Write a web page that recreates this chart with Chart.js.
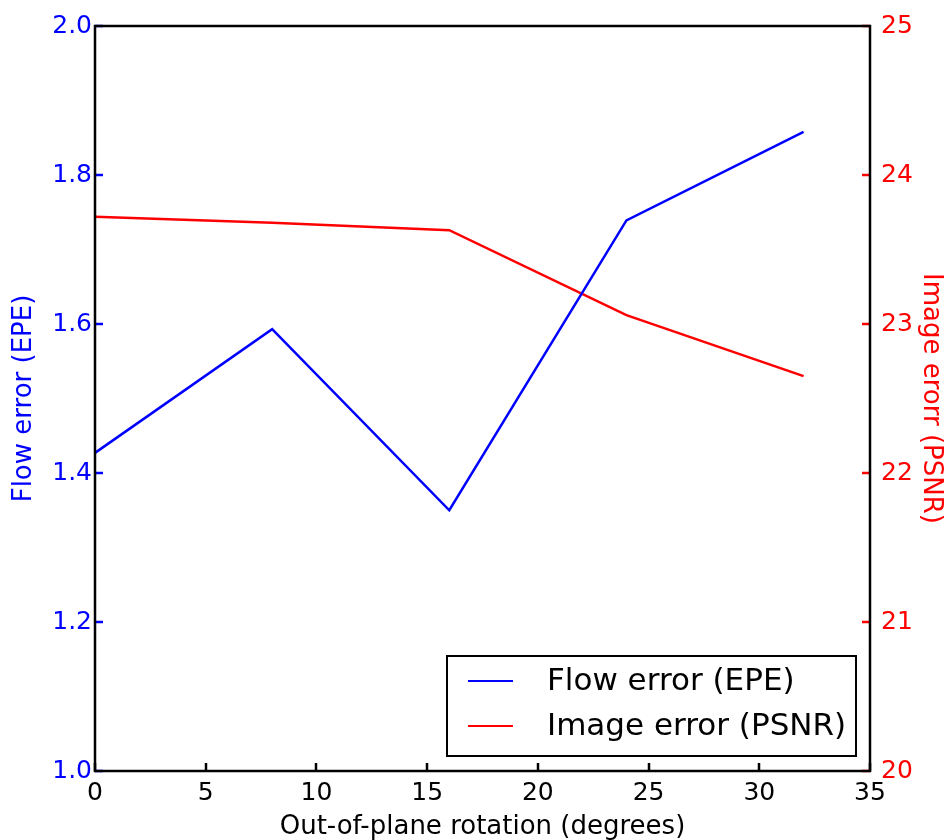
<!DOCTYPE html>
<html>
<head>
<meta charset="utf-8">
<script src="https://cdn.jsdelivr.net/npm/chart.js@4.4.1/dist/chart.umd.min.js"></script>
<style>
  html, body { margin: 0; padding: 0; background: #fff; }
  #wrap { width: 946px; height: 840px; position: relative; }
</style>
</head>
<body>
<div id="wrap"><canvas id="c"></canvas></div>
<script>
// ---- data ----
const rotations = [0, 8, 16, 24, 32];
const flowEPE = [1.427, 1.593, 1.350, 1.739, 1.858];
const imagePSNR = [23.72, 23.68, 23.63, 23.06, 22.65];
const flowLabel = 'Flow error (EPE)';
const imageLabel = 'Image error (PSNR)';
const xTitle = 'Out-of-plane rotation (degrees)';
const yLeftTitle = 'Flow error (EPE)';
const yRightTitle = 'Image erorr (PSNR)';

const FONT = '"DejaVu Sans", sans-serif';
const BLUE = '#0000ff';
const RED = '#ff0000';

const insideTicks = {
  id: 'insideTicks',
  afterDraw(chart) {
    const ctx = chart.ctx;
    const a = chart.chartArea;
    const L = 8;
    ctx.save();
    ctx.lineWidth = 2.5;
    ctx.strokeStyle = '#000';
    chart.scales.x.ticks.forEach(t => {
      const px = Math.round(chart.scales.x.getPixelForValue(t.value));
      ctx.beginPath(); ctx.moveTo(px, a.bottom); ctx.lineTo(px, a.bottom - L); ctx.stroke();
    });
    ctx.strokeStyle = BLUE;
    chart.scales.y.ticks.forEach(t => {
      const py = Math.round(chart.scales.y.getPixelForValue(t.value));
      ctx.beginPath(); ctx.moveTo(a.left, py); ctx.lineTo(a.left + L, py); ctx.stroke();
    });
    ctx.strokeStyle = RED;
    chart.scales.y2.ticks.forEach(t => {
      const py = Math.round(chart.scales.y2.getPixelForValue(t.value));
      ctx.beginPath(); ctx.moveTo(a.right, py); ctx.lineTo(a.right - L, py); ctx.stroke();
    });
    // frame
    ctx.strokeStyle = '#000';
    ctx.lineWidth = 2.5;
    ctx.strokeRect(a.left, a.top, a.right - a.left, a.bottom - a.top);

    // legend
    const bx = 447, by = 656, bw = 409, bh = 100;
    ctx.fillStyle = '#fff';
    ctx.fillRect(bx, by, bw, bh);
    ctx.lineWidth = 2;
    ctx.strokeStyle = '#000';
    ctx.strokeRect(bx, by, bw, bh);
    ctx.font = '31px ' + FONT;
    ctx.textBaseline = 'middle';
    ctx.textAlign = 'left';
    chart.data.datasets.forEach((ds, i) => {
      const y = 681 + i * 45;
      ctx.strokeStyle = ds.borderColor;
      ctx.lineWidth = 2;
      ctx.beginPath(); ctx.moveTo(468, y); ctx.lineTo(513, y); ctx.stroke();
      ctx.fillStyle = '#000';
      ctx.fillText(ds.label, 547, y + 1);
    });
    ctx.restore();
  }
};

new Chart(document.getElementById('c'), {
  type: 'line',
  data: {
    datasets: [
      { label: flowLabel, data: rotations.map((x, i) => ({ x, y: flowEPE[i] })),
        borderColor: BLUE, backgroundColor: BLUE, borderWidth: 2.5, pointRadius: 0, tension: 0, yAxisID: 'y' },
      { label: imageLabel, data: rotations.map((x, i) => ({ x, y: imagePSNR[i] })),
        borderColor: RED, backgroundColor: RED, borderWidth: 2.5, pointRadius: 0, tension: 0, yAxisID: 'y2' }
    ]
  },
  options: {
    responsive: true,
    maintainAspectRatio: false,
    animation: false,
    layout: { padding: { top: 26, left: 0, right: 0, bottom: 0 } },
    plugins: { legend: { display: false }, tooltip: { enabled: false } },
    scales: {
      x: {
        type: 'linear', min: 0, max: 35,
        grid: { display: false, drawTicks: false },
        border: { display: false },
        ticks: { stepSize: 5, color: '#000', font: { family: FONT, size: 25 }, padding: 7, maxRotation: 0 },
        title: { display: true, text: xTitle, color: '#000', font: { family: FONT, size: 26, lineHeight: 1.0 }, padding: { top: 0, bottom: 0 } },
        afterFit(s) { s.height = 69; }
      },
      y: {
        type: 'linear', position: 'left', min: 1.0, max: 2.0,
        grid: { display: false, drawTicks: false },
        border: { display: false },
        ticks: { stepSize: 0.2, color: BLUE, font: { family: FONT, size: 25 }, padding: 3,
                 callback: v => Number(v).toFixed(1) },
        title: { display: true, text: yLeftTitle, color: BLUE, font: { family: FONT, size: 26 }, padding: { top: 9, bottom: 0 } },
        afterFit(s) { s.width = 95; }
      },
      y2: {
        type: 'linear', position: 'right', min: 20, max: 25,
        grid: { display: false, drawTicks: false },
        border: { display: false },
        ticks: { stepSize: 1, color: RED, font: { family: FONT, size: 25 }, padding: 11,
                 callback: v => String(Math.round(v)) },
        title: { display: true, text: yRightTitle, color: RED, font: { family: FONT, size: 26 }, padding: { top: 0, bottom: 0 } },
        afterFit(s) { s.width = 76; }
      }
    }
  },
  plugins: [insideTicks]
});
</script>
</body>
</html>
